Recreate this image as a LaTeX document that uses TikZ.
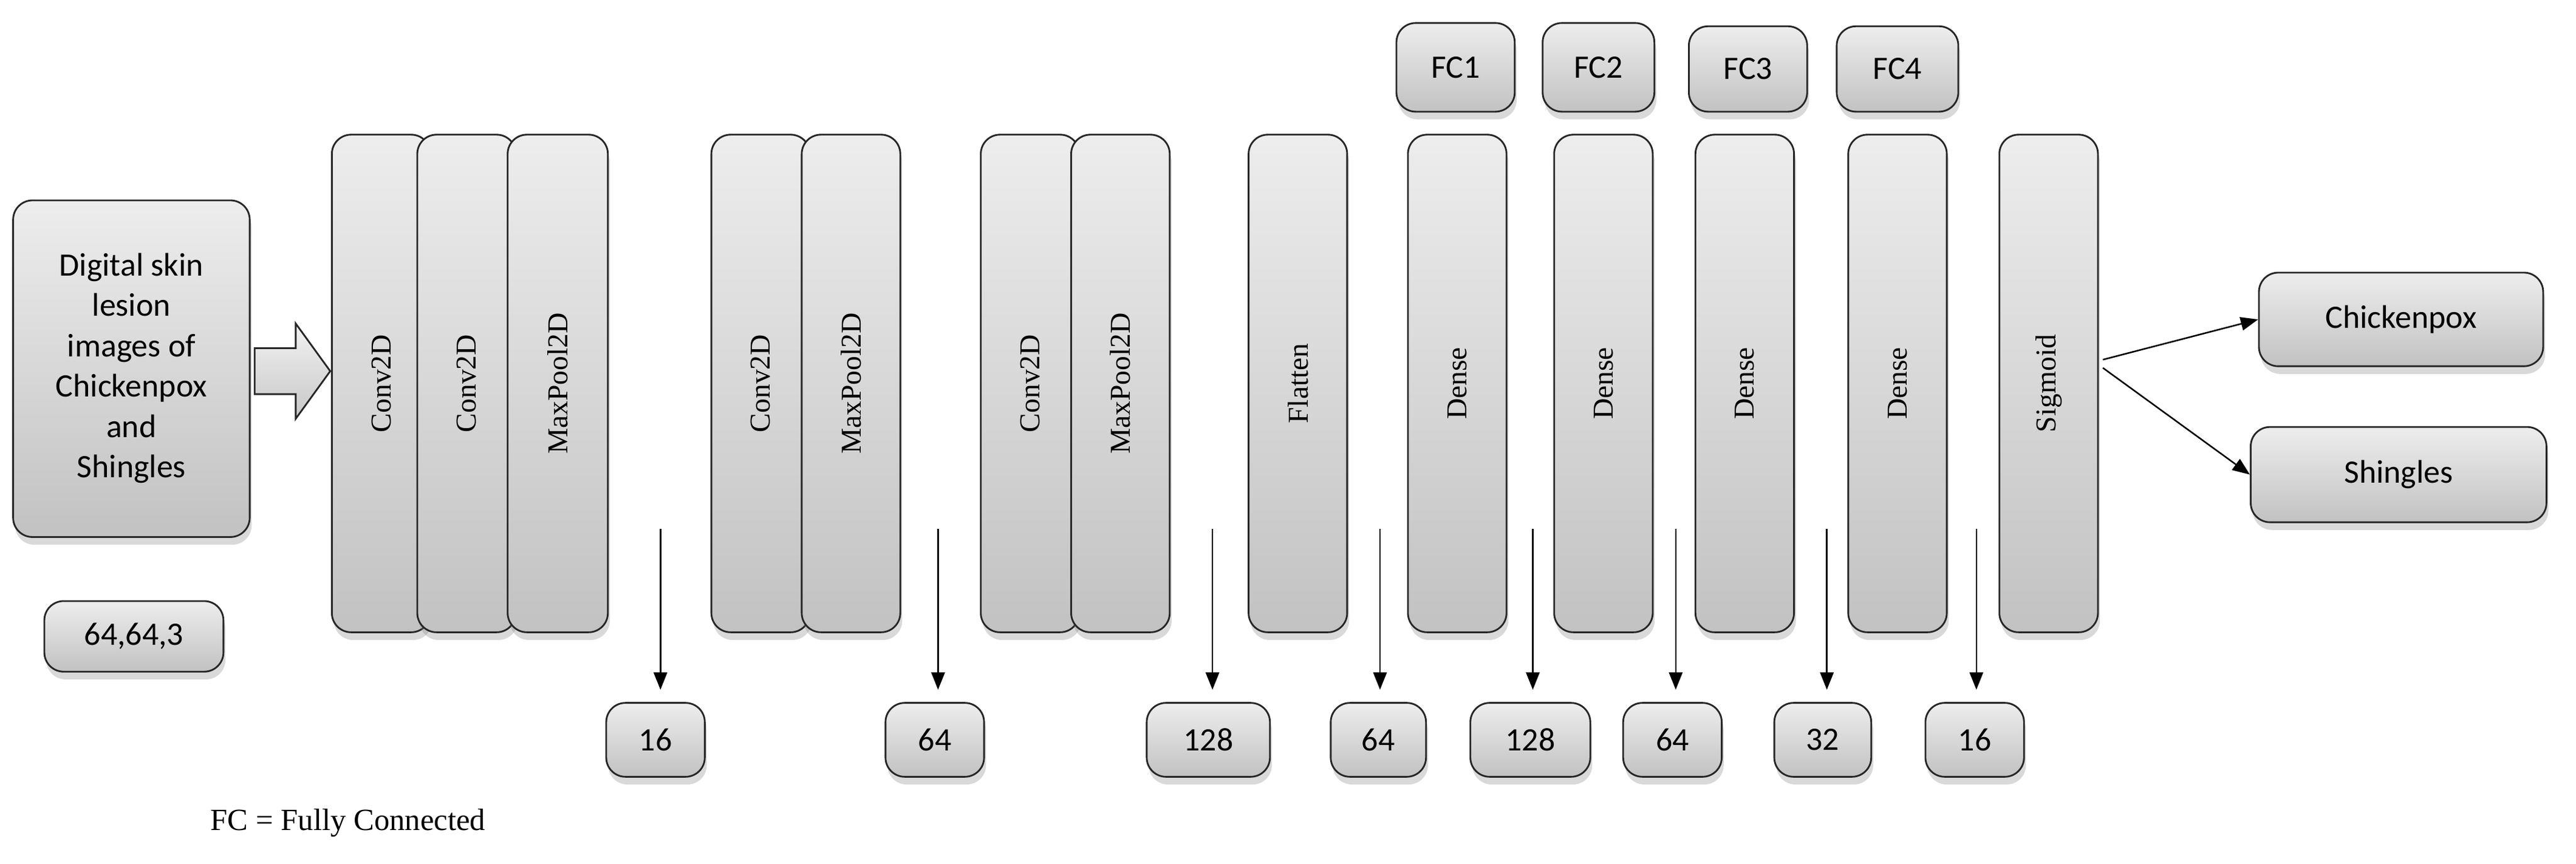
\documentclass[tikz,border=0pt]{standalone}
\usepackage{fontspec}
\setmainfont{Liberation Serif}
\newfontfamily\calfnt{Carlito}
\usetikzlibrary{shadows,arrows.meta}
\tikzset{
  box/.style={draw=black!85, line width=0.9pt, rounded corners=10pt, top color=black!7, bottom color=black!24,
     drop shadow={shadow xshift=1pt, shadow yshift=-4pt, opacity=0.3}, inner sep=0pt},
  conn/.style={-{Triangle[length=9pt,width=7pt]}, line width=0.8pt},
}
\newcommand{\bx}[7]{% name x1 y1 x2 y2 text font
  \pgfmathsetmacro{\cx}{(#2+#4)/2}\pgfmathsetmacro{\cy}{(#3+#5)/2}
  \pgfmathsetmacro{\ww}{(#4-#2)*0.03}\pgfmathsetmacro{\hh}{(#5-#3)*0.03}
  \node[box, minimum width=\ww cm, minimum height=\hh cm] (#1) at (\cx,\cy) {#7#6};}
\newcommand{\lay}[4]{% name x1 x2 text
  \bx{#1}{#2}{82}{#3}{385}{\rotatebox{90}{#4}}{\fontsize{15}{18}\selectfont}}
\begin{document}
\begin{tikzpicture}[x=0.03cm,y=-0.03cm]
\useasboundingbox (0,0) rectangle (1568,526);
\bx{inp}{8}{122}{152}{327}{\begin{tabular}{c}Digital skin\\lesion\\images of\\Chickenpox\\and\\Shingles\end{tabular}}{\calfnt\fontsize{17}{21}\selectfont\def\arraystretch{1.0}}
\bx{dim}{27}{366}{136}{409}{64,64,3}{\calfnt\fontsize{17}{21}\selectfont}
\path[draw=black!85, line width=0.9pt, top color=black!5, bottom color=black!22] (155,212)--(180,212)--(180,197)--(201,226)--(180,255)--(180,240)--(155,240)--cycle;
\lay{c1}{202}{262}{Conv2D}
\lay{c2}{254}{314}{Conv2D}
\lay{m1}{309}{370}{MaxPool2D}
\lay{c3}{433}{493}{Conv2D}
\lay{m2}{488}{548}{MaxPool2D}
\lay{c4}{597}{657}{Conv2D}
\lay{m3}{652}{712}{MaxPool2D}
\lay{fl}{760}{820}{Flatten}
\lay{d1}{857}{917}{Dense}
\lay{d2}{946}{1006}{Dense}
\lay{d3}{1032}{1092}{Dense}
\lay{d4}{1125}{1185}{Dense}
\lay{sg}{1217}{1277}{Sigmoid}
\bx{fc1}{850}{14}{922}{68}{FC1}{\calfnt\fontsize{17}{21}\selectfont}
\bx{fc2}{939}{14}{1007}{68}{FC2}{\calfnt\fontsize{17}{21}\selectfont}
\bx{fc3}{1028}{16}{1100}{68}{FC3}{\calfnt\fontsize{17}{21}\selectfont}
\bx{fc4}{1118}{16}{1192}{68}{FC4}{\calfnt\fontsize{17}{21}\selectfont}
\bx{ck}{1375}{166}{1548}{223}{Chickenpox}{\calfnt\fontsize{17}{21}\selectfont}
\bx{sh}{1370}{260}{1550}{318}{Shingles}{\calfnt\fontsize{17}{21}\selectfont}
\coordinate (s1) at (1280,219); \coordinate (s2) at (1280,224);
\draw[conn] (s1) -- (ck.west);
\draw[conn] (s2) -- (sh.west);
\bx{n1}{369}{428}{429}{473}{16}{\calfnt\fontsize{17}{21}\selectfont}
\bx{n2}{539}{428}{599}{473}{64}{\calfnt\fontsize{17}{21}\selectfont}
\bx{n3}{698}{428}{773}{473}{128}{\calfnt\fontsize{17}{21}\selectfont}
\bx{n4}{810}{428}{868}{473}{64}{\calfnt\fontsize{17}{21}\selectfont}
\bx{n5}{895}{428}{968}{473}{128}{\calfnt\fontsize{17}{21}\selectfont}
\bx{n6}{988}{428}{1048}{473}{64}{\calfnt\fontsize{17}{21}\selectfont}
\bx{n7}{1080}{428}{1139}{473}{32}{\calfnt\fontsize{17}{21}\selectfont}
\bx{n8}{1172}{428}{1232}{473}{16}{\calfnt\fontsize{17}{21}\selectfont}
\foreach \x/\n in {402/1,571/2,738/3,840/4,933/5,1020/6,1112/7,1203/8}{
  \coordinate (t\n) at (\x,322); \coordinate (b\n) at (\x,420);
  \draw[conn] (t\n) -- (b\n);}
\node[anchor=west, font=\fontsize{16}{19}\selectfont] (leg) at (124,501) {FC = Fully Connected};
\end{tikzpicture}
\end{document}
